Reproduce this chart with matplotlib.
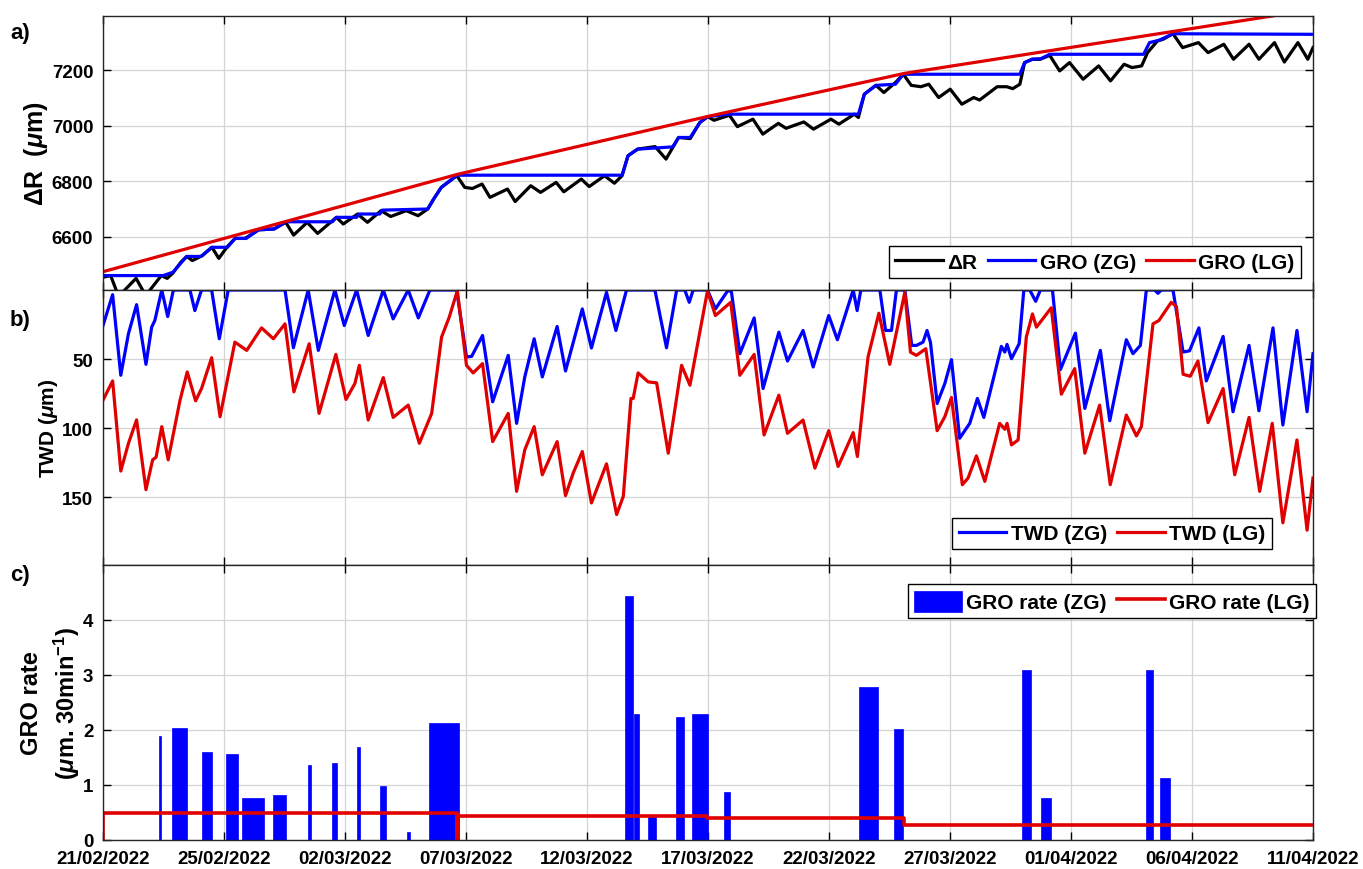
import datetime as dt
import numpy as np
import matplotlib
matplotlib.use("Agg")
import matplotlib.pyplot as plt

plt.rcParams['font.family'] = ['Liberation Sans', 'DejaVu Sans']
plt.rcParams['font.weight'] = 'bold'
plt.rcParams['mathtext.fontset'] = 'custom'
plt.rcParams['mathtext.rm'] = 'Liberation Sans:bold'
plt.rcParams['mathtext.bf'] = 'Liberation Sans:bold'
plt.rcParams['mathtext.it'] = 'Liberation Sans:italic:bold'
plt.rcParams['lines.solid_joinstyle'] = 'round'

start_date = dt.datetime(2022, 2, 21)
n_days = 49

# a) stem radius change (days since 21/02/2022, um)
dr_t = [0, 0.31, 0.63, 1.34, 1.73, 2.36, 2.6, 2.83, 3.15, 3.39, 3.62, 4.02, 4.41, 4.69, 5.04,
        5.35, 5.75, 6.3, 6.93, 7.4, 7.72, 8.27, 8.69, 9.45, 9.73, 10.31, 10.71, 11.26, 11.65,
        12.28, 12.76, 13.15, 13.39, 13.7, 14.33, 14.65, 14.96, 15.35, 15.67, 16.38, 16.69,
        17.32, 17.72, 18.35, 18.66, 19.37, 19.69, 20.31, 20.71, 21.02, 21.26, 21.65, 22.36,
        22.8, 23.31, 23.78, 24.17, 24.49, 24.74, 25.37, 25.69, 26.32, 26.72, 27.35, 27.66,
        28.38, 28.77, 29.48, 29.8, 30.43, 30.59, 30.83, 31.3, 31.62, 32.09, 32.41, 32.73,
        33.12, 33.44, 33.84, 34.31, 34.78, 35.26, 35.5, 36.21, 36.6, 36.84, 37.13, 37.32,
        37.63, 37.95, 38.34, 38.74, 39.14, 39.69, 40.32, 40.8, 41.35, 41.67, 42.06, 42.3,
        42.7, 42.93, 43.33, 43.72, 44.36, 44.75, 45.39, 45.78, 46.41, 46.81, 47.44, 47.84,
        48.39, 48.79, 49.0]
dr_v = [6454, 6460, 6385, 6450, 6388, 6460, 6450, 6469, 6508, 6529, 6514, 6532, 6562, 6522, 6565,
        6594, 6594, 6625, 6628, 6652, 6606, 6652, 6612, 6670, 6646, 6682, 6652, 6694, 6673,
        6694, 6676, 6700, 6736, 6778, 6820, 6778, 6774, 6790, 6742, 6772, 6727,
        6784, 6760, 6796, 6762, 6808, 6781, 6820, 6793, 6820, 6892, 6916, 6925,
        6880, 6958, 6954, 7012, 7033, 7020, 7038, 6997, 7024, 6970, 7009, 6991,
        7014, 6988, 7024, 7006, 7042, 7030, 7114, 7146, 7120, 7156, 7186, 7146,
        7141, 7150, 7102, 7132, 7078, 7102, 7093, 7141, 7141, 7134, 7150, 7228,
        7240, 7240, 7254, 7198, 7228, 7168, 7216, 7162, 7222, 7210, 7216, 7264,
        7306, 7312, 7332, 7282, 7300, 7264, 7294, 7240, 7294, 7240, 7300, 7230,
        7300, 7240, 7282]

gro_zg_t = [0, 2.44, 2.83, 3.39, 3.97, 4.41, 5.04, 5.35, 5.8, 6.3, 6.93, 7.4, 9.29, 9.45, 10.27,
            10.36, 11.21, 11.31, 13.15, 13.39, 13.7, 14.33, 21.02, 21.26, 21.65, 23.07, 23.31,
            23.78, 24.17, 24.49, 25.37, 30.59, 30.83, 31.3, 32.09, 32.41, 37.13, 37.32, 37.63,
            37.98, 38.34, 42.14, 42.38, 42.78, 43.33, 49.0]
gro_zg_v = [6460, 6460, 6472, 6529, 6529, 6562, 6562, 6594, 6594, 6625, 6628, 6654, 6654, 6670, 6670,
            6682, 6682, 6696, 6700, 6736, 6778, 6822, 6822, 6892, 6916, 6924, 6958,
            6958, 7012, 7033, 7042, 7042, 7114, 7146, 7150, 7186, 7186, 7228, 7240,
            7242, 7258, 7258, 7300, 7309, 7332, 7330]

gro_lg_t = [0, 14.35, 24.45, 32.45, 49.0]
gro_lg_v = [6474, 6825, 7033, 7189, 7419]

# b) tree water deficit (um)
twd_zg_t = [0, 0.39, 0.72, 1.03, 1.36, 1.74, 1.97, 2.1, 2.38, 2.62, 2.85, 3.52, 3.72, 3.99, 4.4,
            4.71, 5.07, 7.37, 7.71, 8.31, 8.72, 9.39, 9.77, 10.27, 10.74, 11.35, 11.75, 12.36,
            12.77, 13.24, 14.32, 14.72, 14.93, 15.37, 15.78, 16.41, 16.75, 17.08, 17.46, 17.79,
            18.39, 18.73, 19.41, 19.78, 20.39, 20.77, 21.2, 22.35, 22.82, 23.23, 23.56, 23.74,
            23.9, 24.48, 24.8, 25.32, 25.45, 25.79, 26.37, 26.73, 27.37, 27.72, 28.35, 28.76,
            29.39, 29.74, 30.38, 30.54, 30.69, 31.46, 31.69, 31.93, 32.13, 32.47, 32.75, 32.94,
            33.21, 33.37, 33.51, 33.78, 34.09, 34.36, 34.69, 35.1, 35.41, 35.67, 36.38, 36.52,
            36.61, 36.79, 37.1, 37.29, 37.53, 37.77, 37.96, 38.45, 38.77, 39.38, 39.76, 40.39,
            40.77, 41.44, 41.71, 42.01, 42.25, 42.59, 42.72, 42.86, 43.33, 43.74, 44.0, 44.38,
            44.68, 45.36, 45.76, 46.41, 46.81, 47.38, 47.78, 48.35, 48.76, 49.0]
twd_zg_v = [25.7, 3.4, 61.7, 31.7, 10.6, 53.8, 26.9, 22, 0, 19.2, 0, 0, 14.9, 0, 0,
            35.3, 0, 0, 41.8, 0, 43.7, 0, 25.7, 0, 32.9, 0, 20.9, 0,
            20.2, 0, 0, 48.5, 48, 32.9, 80.9, 47.3, 96.5, 62.9, 35.3, 62.9,
            26.4, 58.6, 13.7, 42, 1.7, 29.3, 0, 0, 41.8, 0, 0, 8.9,
            0, 0, 13.7, 0, 1.5, 46.1, 20.2, 71.3, 30.5, 51.4, 29.3, 55.7,
            18.5, 36, 0, 14.9, 0, 0, 29.3, 29.3, 0, 0, 40.1, 40.1,
            37.7, 29.3, 38, 82.1, 67.7, 50.4, 107.3, 96.5, 78.5, 92.2, 40.8, 44.9,
            39.4, 49.7, 38.9, 0, 0, 8.2, 0, 0, 57.6, 31.2, 85.7, 43.7,
            94.6, 36, 46.1, 40.1, 0, 0, 2.4, 0, 0, 44.9, 44, 27.4,
            65.8, 33.6, 88.1, 40.1, 87.4, 27.4, 97.7, 29.3, 88.1, 46.1]

twd_lg_t = [0, 0.39, 0.72, 1.03, 1.36, 1.74, 2.01, 2.15, 2.38, 2.64, 3.12, 3.41, 3.75, 3.99, 4.4,
            4.74, 5.34, 5.82, 6.42, 6.9, 7.37, 7.73, 8.35, 8.75, 9.43, 9.84, 10.2, 10.38, 10.74,
            11.35, 11.75, 12.36, 12.81, 13.31, 13.71, 14.02, 14.35, 14.72, 14.99, 15.37, 15.78,
            16.41, 16.75, 17.08, 17.46, 17.79, 18.39, 18.73, 19.04, 19.41, 19.78, 20.39, 20.8,
            21.07, 21.38, 21.47, 21.67, 22.08, 22.42, 22.89, 23.43, 23.77, 24.48, 24.8, 25.42,
            25.79, 26.37, 26.77, 27.37, 27.72, 28.35, 28.83, 29.39, 29.77, 30.38, 30.55, 30.98,
            31.42, 31.86, 32.47, 32.7, 32.94, 33.32, 33.78, 34.09, 34.36, 34.8, 35.03, 35.37,
            35.71, 36.31, 36.52, 36.61, 36.79, 37.06, 37.39, 37.64, 37.8, 38.4, 38.81, 39.35,
            39.76, 40.36, 40.79, 41.44, 41.85, 42.05, 42.52, 42.76, 43.26, 43.47, 43.74, 44.03,
            44.34, 44.75, 45.36, 45.83, 46.41, 46.84, 47.35, 47.78, 48.35, 48.76, 49.0]
twd_lg_v = [79.7, 65.8, 131, 111, 94, 144.5, 122.9, 121, 98.9, 122.9, 79.7, 59.3, 80.2, 71.3, 49,
            91.7, 37.7, 43.7, 27.4, 35.3, 24.5, 73.7, 38.9, 89.3, 46.6, 79.2, 67.7, 54.5, 94.1,
            63.4, 92.2, 83.3, 110.9, 89.3, 34.1, 19.7, 0.5, 54.5, 60, 53.3, 109.7,
            89.3, 145.7, 115.7, 98.9, 133.7, 109.7, 148.8, 132.5, 116.9, 154.1, 125.8, 162.5,
            149.3, 78.5, 78.5, 60, 66.5, 67.2, 118.1, 54.5, 68.9, 0.5, 18.5, 8.9,
            61.7, 46.6, 104.9, 76.1, 103.7, 94.1, 128.9, 101.8, 127.7, 103.2, 120.5, 48.5,
            16.8, 53.8, 1.7, 45, 47.3, 42.5, 101.8, 91.7, 77.8, 140.9, 136.1, 120,
            138.5, 96.5, 100.8, 96.5, 112.1, 108.5, 34.1, 17.3, 26.9, 12.9, 75.4, 56.9,
            118.1, 83.3, 140.9, 90.5, 105.6, 98.9, 24.5, 22.1, 8.9, 12, 61, 62.4,
            51.4, 96, 71.3, 133.7, 92.2, 145.7, 96.5, 168.5, 108.5, 173.8, 136.1]

# c) growth rate per 30 min
bar_start = [2.28, 2.81, 4.0, 5.0, 5.62, 6.88, 8.3, 9.28, 10.27, 11.21, 12.32, 13.19,
             21.12, 21.5, 22.08, 23.2, 23.86, 25.16, 30.61, 32.05, 37.21, 37.98, 42.23, 42.82]
bar_end = [2.36, 3.41, 4.4, 5.45, 6.52, 7.43, 8.41, 9.49, 10.4, 11.45, 12.45, 14.4,
           21.45, 21.72, 22.39, 23.51, 24.5, 25.38, 31.39, 32.38, 37.58, 38.4, 42.51, 43.19]
bar_rate = [1.90, 2.03, 1.60, 1.56, 0.76, 0.82, 1.37, 1.40, 1.70, 0.99, 0.15, 2.12,
            4.44, 2.30, 0.44, 2.23, 2.30, 0.87, 2.79, 2.02, 3.09, 0.76, 3.09, 1.12]

rate_lg_t = [0, 0, 14.35, 14.35, 14.35, 24.45, 24.45, 32.45, 32.45, 49.0]
rate_lg_v = [0, 0.50, 0.50, 0, 0.43, 0.43, 0.40, 0.40, 0.28, 0.28]

BLUE = '#0000ff'
RED = '#e00000'
LW = 2.3

fig = plt.figure(figsize=(13.63, 8.70), dpi=100)
left, width = 103 / 1363, 1210 / 1363
axa = fig.add_axes([left, 1 - 291 / 870, width, 274 / 870])
axb = fig.add_axes([left, 1 - 566 / 870, width, 275 / 870])
axc = fig.add_axes([left, 1 - 841 / 870, width, 275 / 870])

ticks = np.linspace(0, n_days, 11)
tick_labels = [(start_date + dt.timedelta(days=float(d))).strftime('%d/%m/%Y') for d in ticks]

legend_kw = dict(borderaxespad=0, fontsize=15, handlelength=2.3, handletextpad=0.2,
                 columnspacing=0.5, fancybox=False, edgecolor='black', framealpha=1,
                 borderpad=0.3)

for ax in (axa, axb, axc):
    ax.set_xlim(0, n_days)
    ax.set_xticks(ticks)
    ax.grid(True, color='#d4d4d4', lw=0.9)
    ax.set_axisbelow(True)
    ax.tick_params(direction='in', length=6, width=1, top=True, right=True,
                   labelsize=13.5, pad=7, colors='#000000')
    for s in ax.spines.values():
        s.set_linewidth(1.0)
        s.set_color('#262626')

# panel a
axa.plot(dr_t, dr_v, color='black', lw=LW, label='ΔR')
axa.plot(gro_zg_t, gro_zg_v, color=BLUE, lw=LW, label='GRO (ZG)')
axa.plot(gro_lg_t, gro_lg_v, color=RED, lw=LW, label='GRO (LG)')
axa.set_ylim(6408, 7396)
axa.set_yticks([6600, 6800, 7000, 7200])
axa.tick_params(labelbottom=False)
axa.set_ylabel(r'ΔR  ($\mu$m)', fontsize=18, fontweight='bold')
axa.yaxis.set_label_coords(-0.055, 0.5)
axa.yaxis.label.set_va('center')
axa.legend(loc='lower right', bbox_to_anchor=(0.990, 0.044), ncol=3, **legend_kw)

# panel b
axb.plot(twd_zg_t, twd_zg_v, color=BLUE, lw=LW, label='TWD (ZG)')
axb.plot(twd_lg_t, twd_lg_v, color=RED, lw=LW, label='TWD (LG)')
axb.set_ylim(199, 0)
axb.set_yticks([50, 100, 150])
axb.tick_params(labelbottom=False)
axb.set_ylabel(r'TWD ($\mu$m)', fontsize=15, fontweight='bold')
axb.yaxis.set_label_coords(-0.045, 0.5)
axb.yaxis.label.set_va('center')
axb.legend(loc='lower right', bbox_to_anchor=(0.966, 0.058), ncol=2, **legend_kw)

# panel c
widths = np.array(bar_end) - np.array(bar_start)
bars = axc.bar(bar_start, bar_rate, width=widths, align='edge', color=BLUE, edgecolor=BLUE,
               lw=0.5, label='GRO rate (ZG)')
line, = axc.plot(rate_lg_t, rate_lg_v, color=RED, lw=2.6, label='GRO rate (LG)')
axc.set_ylim(0, 5)
axc.set_yticks([0, 1, 2, 3, 4])
axc.set_xticklabels(tick_labels)
axc.set_ylabel('GRO rate\n' + r'($\mu$m. 30min$^{-1}$)', fontsize=17, fontweight='bold',
               linespacing=1.4)
axc.yaxis.set_label_coords(-0.043, 0.5)
axc.yaxis.label.set_va('center')
axc.legend(handles=[bars, line], loc='upper right', bbox_to_anchor=(1.0025, 0.93), ncol=2,
           handleheight=1.2, **legend_kw)

for label, ypix in (('a)', 34), ('b)', 321), ('c)', 576)):
    fig.text(10 / 1363, 1 - ypix / 870, label, fontsize=16, fontweight='bold', va='center')

fig.savefig('out.png', dpi=100)
